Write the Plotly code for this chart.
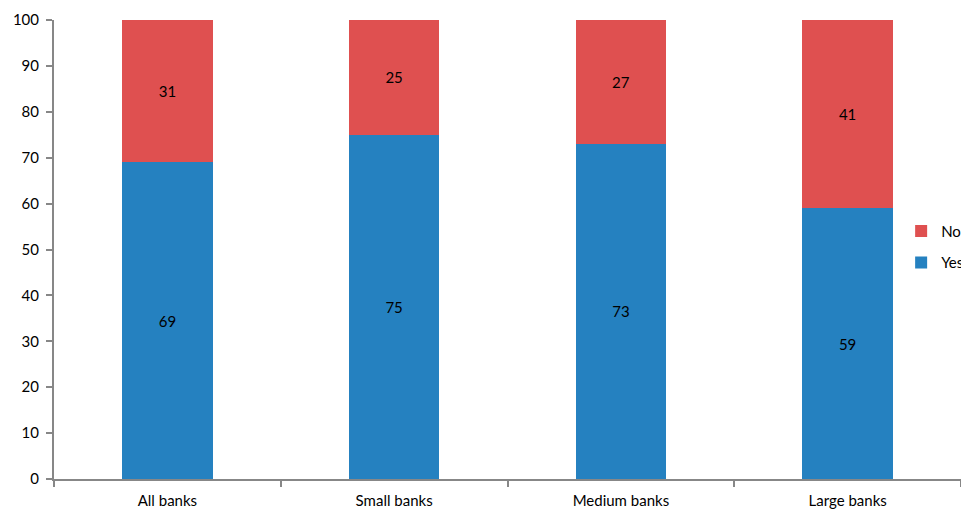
import plotly.graph_objects as go

categories = ["All banks", "Small banks", "Medium banks", "Large banks"]
yes_values = [69, 75, 73, 59]
no_values = [31, 25, 27, 41]
y_ticks = [0, 10, 20, 30, 40, 50, 60, 70, 80, 90, 100]

BLUE = "#2581C0"
RED = "#DF5050"
GRAY = "#878787"
FONT = "Lato"

fig = go.Figure()
fig.add_trace(go.Bar(
    x=categories, y=yes_values, name="Yes", legendgroup="yes", legendrank=2,
    marker=dict(color=BLUE, line=dict(width=0)),
    text=[str(v) for v in yes_values], textposition="inside", insidetextanchor="middle",
    textfont=dict(color="black", size=15, family=FONT), width=0.4,
))
fig.add_trace(go.Bar(
    x=categories, y=no_values, name="No", legendgroup="no", legendrank=1,
    marker=dict(color=RED, line=dict(width=0)),
    text=[str(v) for v in no_values], textposition="inside", insidetextanchor="middle",
    textfont=dict(color="black", size=15, family=FONT), width=0.4,
))

# page body has an 8px default margin; compensate so the plot area sits where the reference has it
fig.update_layout(
    barmode="stack",
    width=961, height=502,
    margin=dict(l=46, r=8, t=12, b=31, autoexpand=False),
    plot_bgcolor="white", paper_bgcolor="white",
    font=dict(family=FONT, size=15, color="black"),
    legend=dict(
        x=0.934, y=0.506, xanchor="left", yanchor="middle",
        traceorder="grouped", tracegroupgap=9, bgcolor="rgba(0,0,0,0)",
        font=dict(size=15, family=FONT), itemwidth=30,
    ),
    uniformtext=dict(mode="show", minsize=10),
)
fig.update_xaxes(
    automargin=False,
    showline=True, linecolor=GRAY, linewidth=2,
    ticks="outside", tickson="boundaries", ticklen=6, tickcolor=GRAY, tickwidth=2,
    showgrid=False, tickfont=dict(size=15), ticklabelstandoff=7,
)
fig.update_yaxes(
    automargin=False,
    range=[0, 100], tickvals=y_ticks, showline=True, linecolor=GRAY, linewidth=2,
    ticks="outside", ticklen=6, tickcolor=GRAY, tickwidth=2, showgrid=False, zeroline=False,
    tickfont=dict(size=15), ticklabelstandoff=4,
)

fig.write_html("out.html")
